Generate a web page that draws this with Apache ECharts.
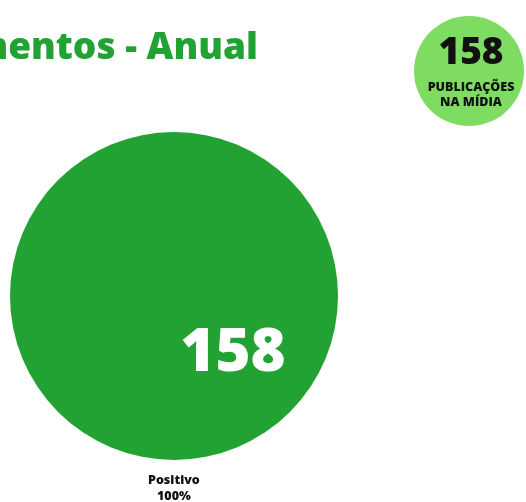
<!DOCTYPE html>
<html><head><meta charset="utf-8">
<script src="https://cdn.jsdelivr.net/npm/echarts@6/dist/echarts.min.js"></script>
<style>html,body{margin:0;padding:0;background:#fff}#c{width:526px;height:502px}</style>
</head><body><div id="c"></div>
<script>
const titleText = 'Sentimentos - Anual';
const categories = ['Positivo'];
const values = [158];
const percents = ['100%'];
const totalPublications = 158;
const badgeLines = ['PUBLICAÇÕES', 'NA MÍDIA'];

const chart = echarts.init(document.getElementById('c'), null, {renderer: 'canvas'});
const FONT = '"Open Sans", "Noto Sans", sans-serif';
chart.setOption({
  animation: false,
  backgroundColor: '#ffffff',
  series: [
    {
      type: 'pie',
      center: [174, 296],
      radius: [0, 164],
      silent: true,
      label: {
        show: true,
        position: 'inside',
        formatter: p => String(p.value),
        color: '#ffffff',
        fontFamily: FONT,
        fontWeight: 800,
        fontSize: 60
      },
      labelLayout: function () { return { x: 233, y: 354, align: 'center', verticalAlign: 'middle' }; },
      itemStyle: { color: '#22a233', borderWidth: 0 },
      data: categories.map((c, i) => ({ name: c, value: values[i] }))
    },
    {
      type: 'pie',
      center: [469, 71],
      radius: [0, 55],
      silent: true,
      label: {
        show: true,
        position: 'center',
        offset: [2, -3],
        formatter: () => '{n|' + totalPublications + '}\n{s|' + badgeLines.join('\n') + '}',
        rich: {
          n: { fontFamily: FONT, fontWeight: 800, fontSize: 37, color: '#111111', lineHeight: 53 },
          s: { fontFamily: FONT, fontWeight: 800, fontSize: 12.5, color: '#111111', lineHeight: 15 }
        }
      },
      itemStyle: { color: '#7edc62' },
      data: [{ name: 'pub', value: totalPublications }]
    }
  ],
  graphic: [
    {
      type: 'text', right: 526 - 258, top: 30,
      style: { text: titleText, fontFamily: FONT, fontWeight: 800, fontSize: 37, fill: '#22a233', textAlign: 'right' }
    },
    {
      type: 'text', left: 148, top: 472,
      style: { text: categories[0] + '\n' + percents[0], fontFamily: FONT, fontWeight: 800, fontSize: 12.5, lineHeight: 16, fill: '#111111', textAlign: 'center' }
    }
  ]
});
</script></body></html>
